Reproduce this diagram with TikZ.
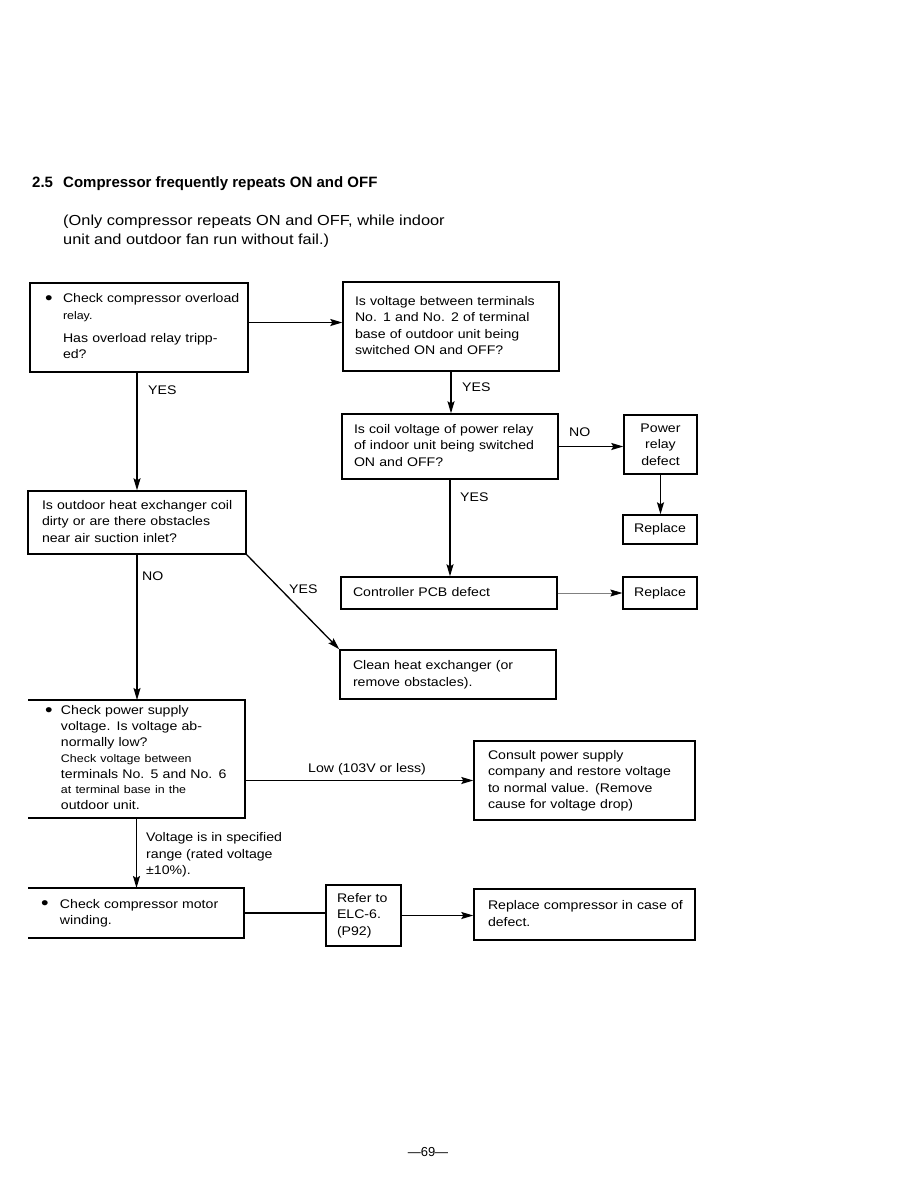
\documentclass[tikz,border=0pt]{standalone}
\usepackage{fontspec}
\setmainfont{Liberation Sans}[FakeStretch=1.13]
\newfontfamily\titlefont{Liberation Sans}
\usetikzlibrary{arrows.meta}
\newcommand\bodyfont{\fontsize{12.5}{16.5}\selectfont}
\newcommand\smtxt{\fontsize{11}{16.5}\selectfont}
\newcommand\tb[1]{\begin{tabular}{@{}l@{}}#1\end{tabular}}
\newcommand\bigbul{\raisebox{-1.8pt}{\fontsize{19}{16}\selectfont\textbullet}}
\begin{document}
\begin{tikzpicture}[x=1pt,y=-1pt,
  every node/.style={font=\bodyfont},
  bx/.style={draw, line width=1.4pt, rectangle, align=left, inner ysep=0pt},
  openbox/.style={rectangle, align=left, inner ysep=0pt, outer sep=0pt},
  lbl/.style={anchor=base west, inner sep=0pt},
  ln/.style={line width=1.3pt},
  arr/.style={line width=1.3pt, -{Stealth[length=12pt,width=7pt,inset=2pt]}},
  grayarr/.style={line width=0.6pt, gray, -{Stealth[length=12pt,width=7pt,inset=2pt,color=black]}}]
\useasboundingbox (0,0) rectangle (918,1188);

% title
\node[lbl, font=\titlefont\bfseries\fontsize{15}{18}\selectfont] (tnum) at (32,187.5) {2.5};
\node[lbl, font=\titlefont\bfseries\fontsize{15}{18}\selectfont] (ttl) at (63,187.5) {Compressor frequently repeats ON and OFF};
\node[lbl, font=\fontsize{14.5}{19}\selectfont] (sub1) at (63,225) {(Only compressor repeats ON and OFF, while indoor};
\node[lbl, font=\fontsize{14.5}{19}\selectfont] (sub2) at (63,244) {unit and outdoor fan run without fail.)};

% boxes
\node[bx, inner xsep=15pt, text width=188pt, minimum width=218pt, minimum height=89pt] (b1) at (139,327.5)
 {\begin{tabular}{@{}p{18pt}@{}l@{}}\bigbul & Check compressor overload\\ & \smtxt relay.\\[6.5pt] & Has overload relay tripp-\\ & ed?\end{tabular}};
\node[bx, inner xsep=12pt, text width=192pt, minimum width=216pt, minimum height=89pt] (b2) at (451,326.5)
 {\tb{Is voltage between terminals\\No. 1 and No. 2 of terminal\\base of outdoor unit being\\switched ON and OFF?}};
\node[bx, inner xsep=12pt, text width=192pt, minimum width=216pt, minimum height=65pt] (b3) at (450,446.5)
 {\tb{Is coil voltage of power relay\\of indoor unit being switched\\ON and OFF?}};
\node[bx, align=center, inner xsep=4pt, text width=65pt, minimum width=73pt, minimum height=59pt] (b4) at (660.5,444.5)
 {Power\\relay\\defect};
\node[bx, align=center, inner xsep=4pt, text width=66pt, minimum width=74pt, minimum height=29pt] (b5) at (660,529.5)
 {Replace};
\node[bx, inner xsep=12pt, text width=192pt, minimum width=216pt, minimum height=32pt] (b6) at (449,593)
 {\tb{Controller PCB defect}};
\node[bx, align=center, inner xsep=4pt, text width=66pt, minimum width=74pt, minimum height=32pt] (b7) at (660,593)
 {Replace};
\node[bx, inner xsep=14pt, text width=190pt, minimum width=218pt, minimum height=63pt] (b8) at (137,522.5)
 {\tb{Is outdoor heat exchanger coil\\dirty or are there obstacles\\near air suction inlet?}};
\node[bx, inner xsep=13pt, text width=190pt, minimum width=216pt, minimum height=49pt] (b9) at (448,674.5)
 {\tb{Clean heat exchanger (or\\remove obstacles).}};
\node[openbox, inner xsep=17pt, text width=183pt, minimum width=217pt, minimum height=118pt] (b10) at (136.5,759)
 {\renewcommand\arraystretch{0.96}\begin{tabular}{@{}p{16pt}@{}l@{}}\bigbul & Check power supply\\ & voltage. Is voltage ab-\\ & normally low?\\ & \smtxt Check voltage between\\ & terminals No. 5 and No. 6\\ & \smtxt at terminal base in the\\ & outdoor unit.\end{tabular}};
\draw[ln] (b10.north west) -- (b10.north east) -- (b10.south east) -- (b10.south west);
\node[bx, inner xsep=14pt, text width=193pt, minimum width=221pt, minimum height=79pt] (b12) at (584.5,780.5)
 {\tb{Consult power supply\\company and restore voltage\\to normal value. (Remove\\cause for voltage drop)}};
\node[openbox, inner xsep=13pt, text width=190pt, minimum width=216pt, minimum height=50pt] (b11) at (136,913)
 {\begin{tabular}{@{}p{19pt}@{}l@{}}\bigbul & Check compressor motor\\ & winding.\end{tabular}};
\draw[ln] (b11.north west) -- (b11.north east) -- (b11.south east) -- (b11.south west);
\node[bx, inner xsep=11pt, text width=53pt, minimum width=75pt, minimum height=61pt] (b13) at (363.5,915.5)
 {\tb{Refer to\\ELC-6.\\(P92)}};
\node[bx, inner xsep=14pt, text width=193pt, minimum width=221pt, minimum height=51pt] (b14) at (584.5,914.5)
 {\tb{Replace compressor in case of\\defect.}};

% labels
\node[lbl] (lyes1) at (148,394) {YES};
\node[lbl] (lyes2) at (462,391) {YES};
\node[lbl] (lno1) at (569,436) {NO};
\node[lbl] (lyes3) at (460,501) {YES};
\node[lbl] (lno2) at (142,580) {NO};
\node[lbl] (lyes4) at (289,593) {YES};
\node[lbl] (llow) at (308,772) {Low (103V or less)};
\node[anchor=north west, inner sep=0pt] (lvolt) at (146,830)
 {\tb{Voltage is in specified\\range (rated voltage\\±10\%).}};

% connectors
\draw[arr] ([yshift=5pt]b1.east) -- ([yshift=5pt]b1.east -| b2.west);
\draw[arr] (b2.south) -- (b2.south |- b3.north);
\draw[arr] (b3.east) -- (b3.east -| b4.west);
\draw[arr] (b4.south) -- (b4.south |- b5.north);
\draw[arr] (b3.south) -- (b3.south |- b6.north);
\draw[grayarr] (b6.east) -- (b6.east -| b7.west);
\draw[arr] (b8.north |- b1.south) -- (b8.north);
\draw[arr] (b8.south) -- (b8.south |- b10.north);
\draw[arr] (b8.south east) -- (b9.north west);
\draw[arr] (b10.east |- b12.west) -- (b12.west);
\draw[arr] (b10.south) -- (b10.south |- b11.north);
\draw[ln] (b11.east) -- (b11.east -| b13.west);
\draw[arr] (b13.east) -- (b13.east -| b14.west);

% page number
\node[font=\titlefont\fontsize{13}{15}\selectfont] (pg) at (428,1152) {—69—};
\end{tikzpicture}
\end{document}
